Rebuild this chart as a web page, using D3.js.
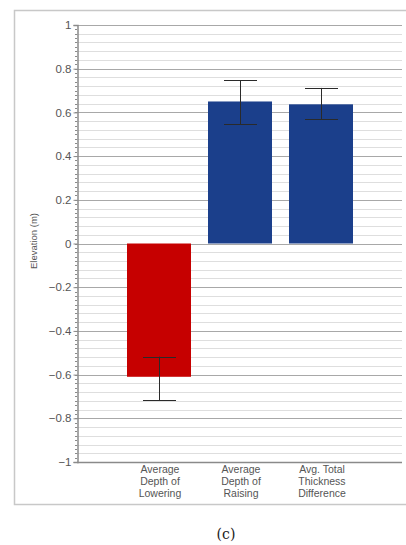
<!DOCTYPE html>
<html>
<head>
<meta charset="utf-8">
<script src="https://cdn.jsdelivr.net/npm/d3@7"></script>
<style>
  body { margin: 0; background: #fff; }
</style>
</head>
<body>
<script>
//Chart data
var categories = [
    ["Average", "Depth of", "Lowering"],
    ["Average", "Depth of", "Raising"],
    ["Avg. Total", "Thickness", "Difference"]
];
var values = [-0.61, 0.65, 0.637];
var errLow = [-0.718, 0.547, 0.568];
var errHigh = [-0.518, 0.748, 0.712];
var barColors = ["#c60000", "#1b3f8b", "#1b3f8b"];
var majorTicks = [-1, -0.8, -0.6, -0.4, -0.2, 0, 0.2, 0.4, 0.6, 0.8, 1];
var yLabel = "Elevation (m)";
var caption = "(c)";

//Width and height
var w = 406;
var h = 545;

var svg = d3.select("body")
            .append("svg")
            .attr("width", w)
            .attr("height", h)
            .style("font-family", "'Liberation Sans', Arial, sans-serif");

//Outer frame
svg.append("rect")
   .attr("x", 14.5)
   .attr("y", 10.5)
   .attr("width", 400)
   .attr("height", 494)
   .attr("fill", "none")
   .attr("stroke", "#c8c8c8")
   .attr("stroke-width", 1.5);

//Scales
var y = d3.scaleLinear()
          .domain([-1, 1])
          .range([462, 25]);

var x = d3.scaleBand()
          .domain(d3.range(categories.length))
          .range([118.5, 361.5])
          .paddingInner(0.21)
          .paddingOuter(0.105);

var left = 77, right = 402;

//Minor gridlines every 0.04
var minor = d3.range(-1, 1.0001, 0.04).filter((v) => {
    return Math.abs(Math.round(v * 5) - v * 5) > 0.01;
});
svg.selectAll("line.minor")
   .data(minor)
   .enter()
   .append("line")
   .attr("class", "minor")
   .attr("x1", left)
   .attr("x2", right)
   .attr("y1", (d) => Math.round(y(d)) + 0.5)
   .attr("y2", (d) => Math.round(y(d)) + 0.5)
   .attr("stroke", "#dedede");

//Major gridlines
svg.selectAll("line.major")
   .data(majorTicks.filter((d) => d > -1))
   .enter()
   .append("line")
   .attr("class", "major")
   .attr("x1", left)
   .attr("x2", right)
   .attr("y1", (d) => Math.round(y(d)) + 0.5)
   .attr("y2", (d) => Math.round(y(d)) + 0.5)
   .attr("stroke", "#a8a8a8");

//Bars
svg.selectAll("rect.bar")
   .data(values)
   .enter()
   .append("rect")
   .attr("class", "bar")
   .attr("x", (d, i) => x(i))
   .attr("width", x.bandwidth())
   .attr("y", (d) => y(Math.max(0, d)))
   .attr("height", (d) => Math.abs(y(d) - y(0)))
   .attr("fill", (d, i) => barColors[i]);

//Error bars
var err = svg.selectAll("g.err")
   .data(values)
   .enter()
   .append("g")
   .attr("class", "err")
   .attr("stroke", "#2a2a2a")
   .attr("stroke-width", 1);

err.append("line")
   .attr("x1", (d, i) => Math.round(x(i) + x.bandwidth() / 2) + 0.5)
   .attr("x2", (d, i) => Math.round(x(i) + x.bandwidth() / 2) + 0.5)
   .attr("y1", (d, i) => y(errLow[i]))
   .attr("y2", (d, i) => y(errHigh[i]));

[errLow, errHigh].forEach((arr) => {
    err.append("line")
       .attr("x1", (d, i) => x(i) + x.bandwidth() / 2 - 16)
       .attr("x2", (d, i) => x(i) + x.bandwidth() / 2 + 17)
       .attr("y1", (d, i) => Math.round(y(arr[i])) + 0.5)
       .attr("y2", (d, i) => Math.round(y(arr[i])) + 0.5);
});

//Y axis
var yAxis = d3.axisLeft(y)
              .tickValues(majorTicks)
              .tickSize(4)
              .tickPadding(2)
              .tickFormat((d) => d === 0 ? "0" : d3.format("")(+d.toFixed(1)));

var gy = svg.append("g")
            .attr("transform", "translate(" + (left + 0.5) + ",0)")
            .call(yAxis);
gy.attr("font-family", null);
gy.select(".domain").attr("stroke", "#8a8a8a").attr("stroke-width", 1.5);
gy.selectAll(".tick line").attr("stroke", "#8a8a8a");
gy.selectAll(".tick text")
  .attr("fill", "#555")
  .attr("font-size", "11.5px");

//Minor axis ticks every 0.02
svg.selectAll("line.mtick")
   .data(d3.range(-1, 1.0001, 0.02))
   .enter()
   .append("line")
   .attr("class", "mtick")
   .attr("x1", left - 2)
   .attr("x2", left)
   .attr("y1", (d) => Math.round(y(d)) + 0.5)
   .attr("y2", (d) => Math.round(y(d)) + 0.5)
   .attr("stroke", "#8a8a8a");

//X axis line
svg.append("line")
   .attr("x1", left)
   .attr("x2", right)
   .attr("y1", y(-1) + 0.5)
   .attr("y2", y(-1) + 0.5)
   .attr("stroke", "#8a8a8a")
   .attr("stroke-width", 1.5);

//Category labels
svg.selectAll("text.cat")
   .data(categories)
   .enter()
   .append("text")
   .attr("class", "cat")
   .attr("text-anchor", "middle")
   .attr("font-size", "10.5px")
   .attr("fill", "#555")
   .each(function(d, i) {
       d3.select(this).selectAll("tspan")
         .data(d)
         .enter()
         .append("tspan")
         .attr("x", x(i) + x.bandwidth() / 2 + 1)
         .attr("y", (t, j) => 473 + j * 12)
         .text((t) => t);
   });

//Y axis title
svg.append("text")
   .attr("transform", "translate(37,241) rotate(-90)")
   .attr("text-anchor", "middle")
   .attr("font-size", "9.5px")
   .attr("fill", "#555")
   .text(yLabel);

//Caption
svg.append("text")
   .attr("x", 226)
   .attr("y", 539)
   .attr("text-anchor", "middle")
   .attr("font-size", "14px")
   .style("font-family", "'DejaVu Serif', serif")
   .attr("fill", "#222")
   .text(caption);
</script>
</body>
</html>
